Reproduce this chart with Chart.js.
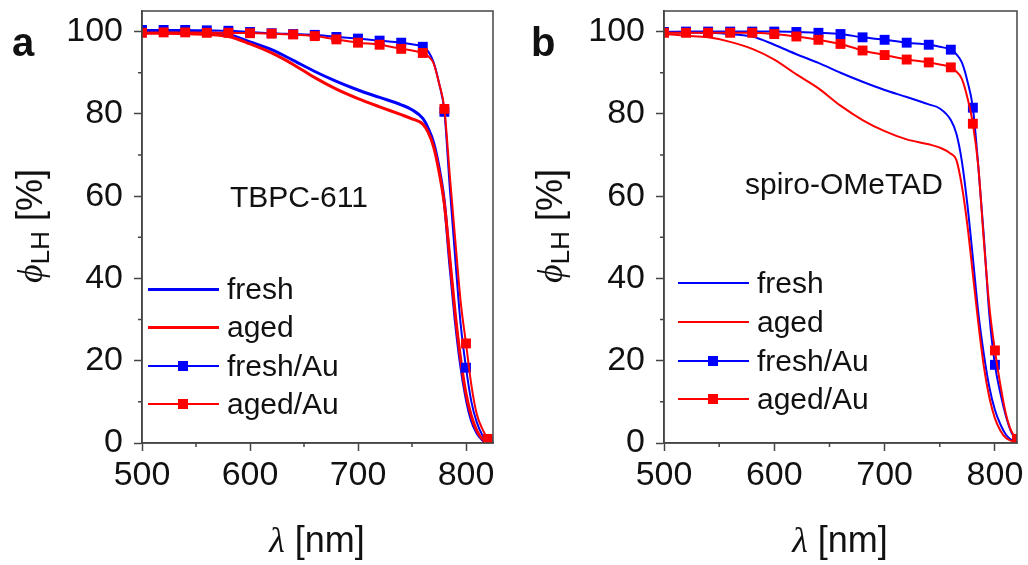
<!DOCTYPE html>
<html>
<head>
<meta charset="utf-8">
<script src="https://cdn.jsdelivr.net/npm/chart.js@4/dist/chart.umd.min.js"></script>
<style>
  html, body { margin: 0; padding: 0; background: #fff; }
  #wrap { position: relative; width: 1028px; height: 565px; overflow: hidden; font-family: "Liberation Sans", Arial, sans-serif; color: #111; }
  canvas { position: absolute; top: 0; }
  .txt { position: absolute; white-space: nowrap; }
  .panel { font-weight: bold; font-size: 40px; line-height: 40px; }
  .note, .leg { font-size: 30px; line-height: 30px; }
  .ytitle { font-size: 36px; line-height: 36px; transform: translate(-50%, -50%) rotate(-90deg); }
  .ytitle sub { font-size: 0.72em; vertical-align: -0.25em; }
  .xtitle { font-size: 36px; line-height: 36px; transform: translateX(-50%); }
  .greek { font-family: "Liberation Serif", "DejaVu Serif", serif; font-style: italic; }
  .seg { position: absolute; }
  .mk { position: absolute; width: 10px; height: 10px; }
</style>
</head>
<body>
<div id="wrap">
  <canvas id="chartA" width="514" height="565" style="left:0"></canvas>
  <canvas id="chartB" width="514" height="565" style="left:514px"></canvas>

  <div class="txt panel" style="left:12px; top:22px">a</div>
  <div class="txt panel" style="left:531px; top:22px">b</div>

  <div class="txt ytitle" style="left:35px; top:226px"><span class="greek">ϕ</span><sub>LH</sub> [%]</div>
  <div class="txt ytitle" style="left:555px; top:226px"><span class="greek">ϕ</span><sub>LH</sub> [%]</div>

  <div class="txt xtitle" style="left:317px; top:522px"><span class="greek">λ</span> [nm]</div>
  <div class="txt xtitle" style="left:840px; top:522px"><span class="greek">λ</span> [nm]</div>

  <div class="txt note" style="left:230px; top:182px">TBPC-611</div>
  <div class="txt note" style="left:745px; top:169px">spiro-OMeTAD</div>

  <div id="legA"></div>
  <div id="legB"></div>
</div>

<script>
// wavelength grid (nm) shared by every curve
const wavelengths = [500, 520, 540, 560, 580, 600, 620, 640, 660, 680, 700, 720, 740, 750, 760, 765, 770, 775, 780, 785, 790, 795, 800, 805, 810, 815, 820];

// panel a: TBPC-611
const tbpcFresh   = [100, 100, 99.9, 99.7, 99.3, 97.5, 95.6, 93.0, 90.3, 87.9, 85.8, 84.0, 82.2, 81.0, 78.9, 76.5, 73, 67, 58.5, 43.5, 30, 19, 11, 5.5, 2.5, 0.8, 0];
const tbpcAged    = [99.6, 99.6, 99.5, 99.3, 98.8, 97.0, 94.8, 92.0, 88.8, 86.0, 83.7, 81.7, 79.8, 78.8, 77.5, 75.5, 72, 66, 58, 45, 31.5, 20.5, 12, 6.5, 3, 1, 0];
const tbpcFreshAu = [100.4, 100.4, 100.4, 100.3, 100.2, 99.9, 99.6, 99.4, 99.2, 98.7, 98.3, 97.8, 97.3, 96.9, 96.3, 95.2, 92.5, 87.5, 80.5, 62, 45, 29, 18.3, 10, 5, 2, 0.5];
const tbpcAgedAu  = [99.7, 99.8, 99.8, 99.7, 99.7, 99.6, 99.5, 99.3, 98.9, 98.1, 97.3, 96.8, 95.8, 95.4, 94.8, 94.0, 92.3, 87.5, 81.2, 65, 49.5, 34.5, 24.2, 14, 7, 3.5, 1];

// panel b: spiro-OMeTAD
const spiroFresh   = [99.8, 99.8, 99.7, 99.4, 98.8, 96.8, 94.5, 92.4, 90, 87.8, 85.8, 84.1, 82.3, 81.3, 78.5, 75.2, 68.5, 58, 45, 31.5, 21.5, 13.5, 8, 4.5, 2, 0.7, 0];
const spiroAged    = [99.4, 99, 98.6, 97.5, 95.8, 93.2, 89.6, 86.2, 82, 78.5, 75.8, 73.8, 72.6, 71.8, 70.3, 68.8, 62.5, 53, 41, 29, 18.5, 11, 6, 3, 1.2, 0.5, 0];
const spiroFreshAu = [99.9, 100, 100, 100, 100, 100, 99.9, 99.7, 99.4, 98.6, 98, 97.3, 96.8, 96.3, 95.6, 94.5, 92.5, 88, 81.5, 67, 50, 31, 19, 12, 6.5, 2.5, 0.5];
const spiroAgedAu  = [99.7, 99.7, 99.7, 99.7, 99.7, 99.4, 98.8, 98, 97, 95.4, 94.3, 93.2, 92.5, 92, 91.3, 90.3, 88.5, 84, 77.6, 67, 49, 33, 22.5, 14, 7, 2.8, 1];

const seriesNames = ['fresh', 'aged', 'fresh/Au', 'aged/Au'];
const xMajorStep = 100;
const yMajorStep = 20;
const xMinorTicks = [550, 650, 750];
const yMinorTicks = [10, 30, 50, 70, 90];

const BLUE = '#0000ff';
const RED = '#ff0000';
const AXIS = '#444';
const FONT = '"Liberation Sans", Arial, sans-serif';

const frameAndMinor = {
	id: 'frameAndMinor',
	afterDraw(chart) {
		const { ctx, chartArea: a } = chart;
		const x = chart.scales.x, y = chart.scales.y;
		ctx.save();
		ctx.strokeStyle = AXIS;
		ctx.lineWidth = 1.5;
		ctx.strokeRect(a.left, a.top, a.right - a.left, a.bottom - a.top);
		ctx.beginPath();
		xMinorTicks.forEach(v => { const px = x.getPixelForValue(v); ctx.moveTo(px, a.bottom); ctx.lineTo(px, a.bottom + 4); });
		yMinorTicks.forEach(v => { const py = y.getPixelForValue(v); ctx.moveTo(a.left, py); ctx.lineTo(a.left - 4, py); });
		ctx.stroke();
		ctx.restore();
	}
};

function toPoints(vals) {
	return wavelengths.map((w, i) => ({ x: w, y: vals[i] }));
}

function markerRadius(ctx) {
	return wavelengths[ctx.dataIndex] % 20 === 0 ? 7 : 0;
}

function makeChart(id, vals, cfg) {
	const colors = [BLUE, RED, BLUE, RED];
	const widths = [cfg.plainWidth, cfg.plainWidth, 2, 2];
	const datasets = vals.map((v, i) => ({
		label: seriesNames[i],
		data: toPoints(v),
		borderColor: colors[i],
		backgroundColor: colors[i],
		borderWidth: widths[i],
		pointStyle: 'rect',
		pointRadius: i >= 2 ? markerRadius : 0,
		pointBorderWidth: 0,
		pointBackgroundColor: colors[i],
		cubicInterpolationMode: 'monotone',
		order: 4 - i
	}));

	return new Chart(document.getElementById(id), {
		type: 'line',
		data: { datasets },
		options: {
			responsive: false,
			animation: false,
			events: [],
			layout: { padding: { left: 0, right: cfg.rightPad, top: 11, bottom: 0 } },
			plugins: { legend: { display: false }, tooltip: { enabled: false } },
			scales: {
				x: {
					type: 'linear',
					min: 500, max: cfg.xMax,
					afterFit: s => { s.height = 122; s.paddingLeft = 0; s.paddingRight = 0; },
					border: { display: true, color: AXIS, width: 1.5 },
					grid: { drawOnChartArea: false, drawTicks: true, tickLength: 8, tickColor: AXIS, tickWidth: 1.5 },
					ticks: { stepSize: xMajorStep, includeBounds: false, maxRotation: 0, padding: 4, color: '#111', font: { family: FONT, size: 34 } }
				},
				y: {
					min: 0, max: 105,
					afterFit: s => { s.width = cfg.yWidth; s.paddingTop = 0; s.paddingBottom = 0; },
					border: { display: true, color: AXIS, width: 1.5 },
					grid: { drawOnChartArea: false, drawTicks: true, tickLength: 8, tickColor: AXIS, tickWidth: 1.5 },
					ticks: { stepSize: yMajorStep, includeBounds: false, padding: 11, color: '#111', font: { family: FONT, size: 34 } }
				}
			}
		},
		plugins: [frameAndMinor]
	});
}

makeChart('chartA', [tbpcFresh, tbpcAged, tbpcFreshAu, tbpcAgedAu], { xMax: 825, yWidth: 142, rightPad: 21, plainWidth: 3 });
makeChart('chartB', [spiroFresh, spiroAged, spiroFreshAu, spiroAgedAu], { xMax: 820, yWidth: 150, rightPad: 11, plainWidth: 2 });

// legends inside the plot areas
function buildLegend(holderId, lineLeft, textLeft, rows, plainWidth) {
	const holder = document.getElementById(holderId);
	const colors = [BLUE, RED, BLUE, RED];
	seriesNames.forEach((name, i) => {
		const cy = rows[i];
		const lw = i < 2 ? plainWidth : 2;
		const seg = document.createElement('div');
		seg.className = 'seg';
		seg.style.left = lineLeft + 'px';
		seg.style.width = '71px';
		seg.style.top = (cy - lw / 2) + 'px';
		seg.style.height = lw + 'px';
		seg.style.background = colors[i];
		holder.appendChild(seg);
		if (i >= 2) {
			const mk = document.createElement('div');
			mk.className = 'mk';
			mk.style.left = (lineLeft + 30) + 'px';
			mk.style.top = (cy - 5) + 'px';
			mk.style.background = colors[i];
			holder.appendChild(mk);
		}
		const t = document.createElement('div');
		t.className = 'txt leg';
		t.style.left = textLeft + 'px';
		t.style.top = (cy - 15) + 'px';
		t.textContent = name;
		holder.appendChild(t);
	});
}

buildLegend('legA', 148, 227, [289, 327, 366, 404], 3);
buildLegend('legB', 678, 757, [283, 322, 361, 399], 2);
</script>
</body>
</html>
